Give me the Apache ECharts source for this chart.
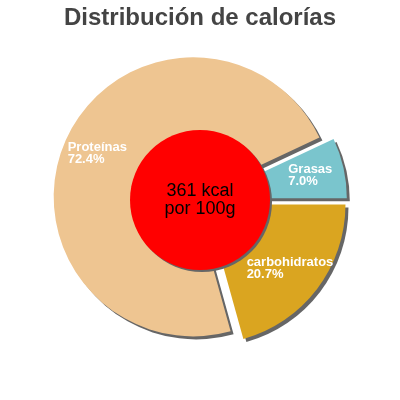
<!DOCTYPE html>
<html>
<head>
<meta charset="utf-8">
<script src="https://cdn.jsdelivr.net/npm/echarts@6/dist/echarts.min.js"></script>
<style>
html,body{margin:0;padding:0;background:#fff;}
#chart{width:400px;height:400px;}
</style>
</head>
<body>
<div id="chart"></div>
<script>
var titleText = 'Distribución de calorías';
var categories = ['Proteínas', 'Grasas', 'carbohidratos'];
var percents = [72.4, 7.0, 20.7];
var colors = ['#EEC591', '#7AC5CD', '#DAA520'];
var energyValue = 361;
var energyLabel = ['361 kcal', 'por 100g'];

var chart = echarts.init(document.getElementById('chart'));
var total = percents[0] + percents[1] + percents[2];
// protein begins where carbohidratos ends (below the horizontal on the right)
var startAngle = 360 - 360 * percents[2] / total;

var mainData = categories.map(function (c, i) {
  return { name: c, value: percents[i], selected: true, itemStyle: { color: colors[i] } };
});
var labelData = categories.map(function (c, i) {
  return { name: c, value: percents[i] };
});

chart.setOption({
  animation: false,
  title: {
    text: titleText,
    left: 'center',
    top: 0,
    padding: [6, 5],
    textStyle: { fontFamily: 'Liberation Sans', fontWeight: 'bold', fontSize: 24, color: '#444444' }
  },
  series: [
    {
      type: 'pie',
      z: 1,
      center: [200, 200],
      radius: [0, 139.5],
      startAngle: startAngle,
      clockwise: true,
      selectedMode: 'multiple',
      selectedOffset: 7.5,
      avoidLabelOverlap: false,
      silent: true,
      label: { show: false },
      labelLine: { show: false },
      itemStyle: { shadowColor: '#666666', shadowOffsetX: 3, shadowOffsetY: 3, shadowBlur: 0 },
      data: mainData
    },
    {
      type: 'pie',
      z: 10,
      center: [200, 200],
      radius: [0, 70],
      silent: true,
      label: {
        show: true,
        position: 'center',
        formatter: energyLabel.join('\n'),
        fontFamily: 'Liberation Sans',
        fontSize: 18,
        lineHeight: 18,
        color: '#000000'
      },
      labelLine: { show: false },
      itemStyle: { color: '#FF0000', shadowColor: '#666666', shadowOffsetX: 2, shadowOffsetY: 2, shadowBlur: 0 },
      data: [{ name: 'energia', value: energyValue }]
    },
    {
      type: 'pie',
      z: 20,
      center: [200, 200],
      radius: [80, 140],
      startAngle: startAngle,
      clockwise: true,
      silent: true,
      avoidLabelOverlap: false,
      itemStyle: { color: 'rgba(0,0,0,0)' },
      label: {
        show: true,
        position: 'inside',
        formatter: function (p) { return p.name + '\n' + p.value.toFixed(1) + '%'; },
        fontFamily: 'Liberation Sans',
        fontWeight: 'bold',
        fontSize: 13,
        lineHeight: 12,
        color: '#ffffff'
      },
      labelLine: { show: false },
      labelLayout: function (params) {
        var r = params.labelRect;
        return { x: r.x, y: r.y + 1, align: 'left', verticalAlign: 'top' };
      },
      data: labelData
    }
  ]
});
</script>
</body>
</html>
